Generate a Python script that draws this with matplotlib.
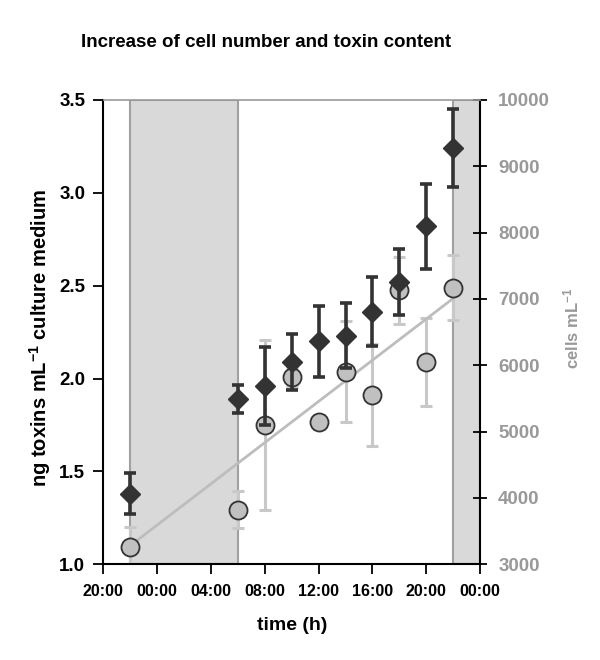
import numpy as np
import matplotlib.pyplot as plt

plt.rcParams['font.family'] = ['Liberation Sans', 'DejaVu Sans']
plt.rcParams['font.weight'] = 'bold'
plt.rcParams['mathtext.default'] = 'regular'

# hours counted from 20:00 on day 1
hours = [2, 10, 12, 14, 16, 18, 20, 22, 24, 26]
toxins = [1.38, 1.89, 1.96, 2.09, 2.20, 2.23, 2.36, 2.52, 2.82, 3.24]
toxin_err = [0.11, 0.075, 0.21, 0.15, 0.19, 0.175, 0.185, 0.18, 0.23, 0.21]
cells = [3265, 3820, 5100, 5830, 5145, 5905, 5555, 7130, 6055, 7170]
cell_err = [290, 280, 1275, 150, 110, 765, 770, 500, 665, 490]

# linear trend of cell numbers
trend_hours = [2, 26]
trend_cells = [3280, 7010]

# dark phases
dark_start = [2, 26]
dark_end = [10, 28]

xticks = [0, 4, 8, 12, 16, 20, 24, 28]
xlabels = ['20:00', '00:00', '04:00', '08:00', '12:00', '16:00', '20:00', '00:00']

dark = '#333333'
grey = '#999999'

fig = plt.figure(figsize=(6, 6.6), dpi=100)
ax = fig.add_axes([0.172, 0.145, 0.6283, 0.7035])
ax2 = ax.twinx()

# cells on the base axes (drawn below), right-hand scale
for a, b in zip(dark_start, dark_end):
    ax.axvspan(a, b, facecolor='#d9d9d9', edgecolor='#a0a0a0', lw=1.5, zorder=1)

ax.errorbar(hours, cells, yerr=cell_err, fmt='none', ecolor='#c8c8c8',
            elinewidth=2.2, capsize=4.5, capthick=2.2, zorder=2)
ax.plot(trend_hours, trend_cells, color='#bdbdbd', lw=2, zorder=3)
ax.plot(hours, cells, 'o', ms=13, mfc='#c0c0c0', mec=dark, mew=1.3, zorder=4)

ax.set_xlim(0, 28)
ax.set_ylim(3000, 10000)
ax.set_xticks(xticks)
ax.set_xticklabels(xlabels, fontsize=11.5, fontweight='bold')
ax.yaxis.tick_right()
ax.set_yticks(range(3000, 10001, 1000))
ax.set_yticklabels([str(v) for v in range(3000, 10001, 1000)],
                   fontsize=13.5, fontweight='bold', color=grey)
ax.tick_params(axis='y', direction='inout', length=10, width=1.3, pad=8)
ax.tick_params(axis='x', direction='out', length=7, width=1.3, pad=7)

ax.spines['top'].set_color('#999999')
ax.spines['top'].set_linewidth(1.2)
for s in ['left', 'bottom', 'right']:
    ax.spines[s].set_linewidth(1.5)
    ax.spines[s].set_color('black')

# toxins on the twin axes (drawn on top), left-hand scale
ax2.errorbar(hours, toxins, yerr=toxin_err, fmt='none', ecolor=dark,
             elinewidth=2.6, capsize=4.5, capthick=2.6, zorder=5)
ax2.plot(hours, toxins, 'D', ms=10, color=dark, zorder=6)
ax2.set_ylim(1.0, 3.5)
ax2.yaxis.tick_left()
ax2.set_yticks(np.arange(1.0, 3.51, 0.5))
ax2.set_yticklabels(['%.1f' % v for v in np.arange(1.0, 3.51, 0.5)],
                    fontsize=13.5, fontweight='bold')
ax2.tick_params(axis='y', direction='out', length=7, width=1.3, pad=6)
for s in ax2.spines.values():
    s.set_visible(False)

fig.text(0.444, 0.936, 'Increase of cell number and toxin content',
         ha='center', va='center', fontsize=13.5, fontweight='bold')
fig.text(0.487, 0.053, 'time (h)', ha='center', va='center',
         fontsize=14, fontweight='bold')
fig.text(0.066, 0.488, 'ng toxins mL$^{-1}$ culture medium', rotation=90,
         ha='center', va='center', fontsize=14.5, fontweight='bold')
fig.text(0.952, 0.503, 'cells mL$^{-1}$', rotation=90, color=grey,
         ha='center', va='center', fontsize=12, fontweight='bold')

fig.savefig('out.png', dpi=100)
